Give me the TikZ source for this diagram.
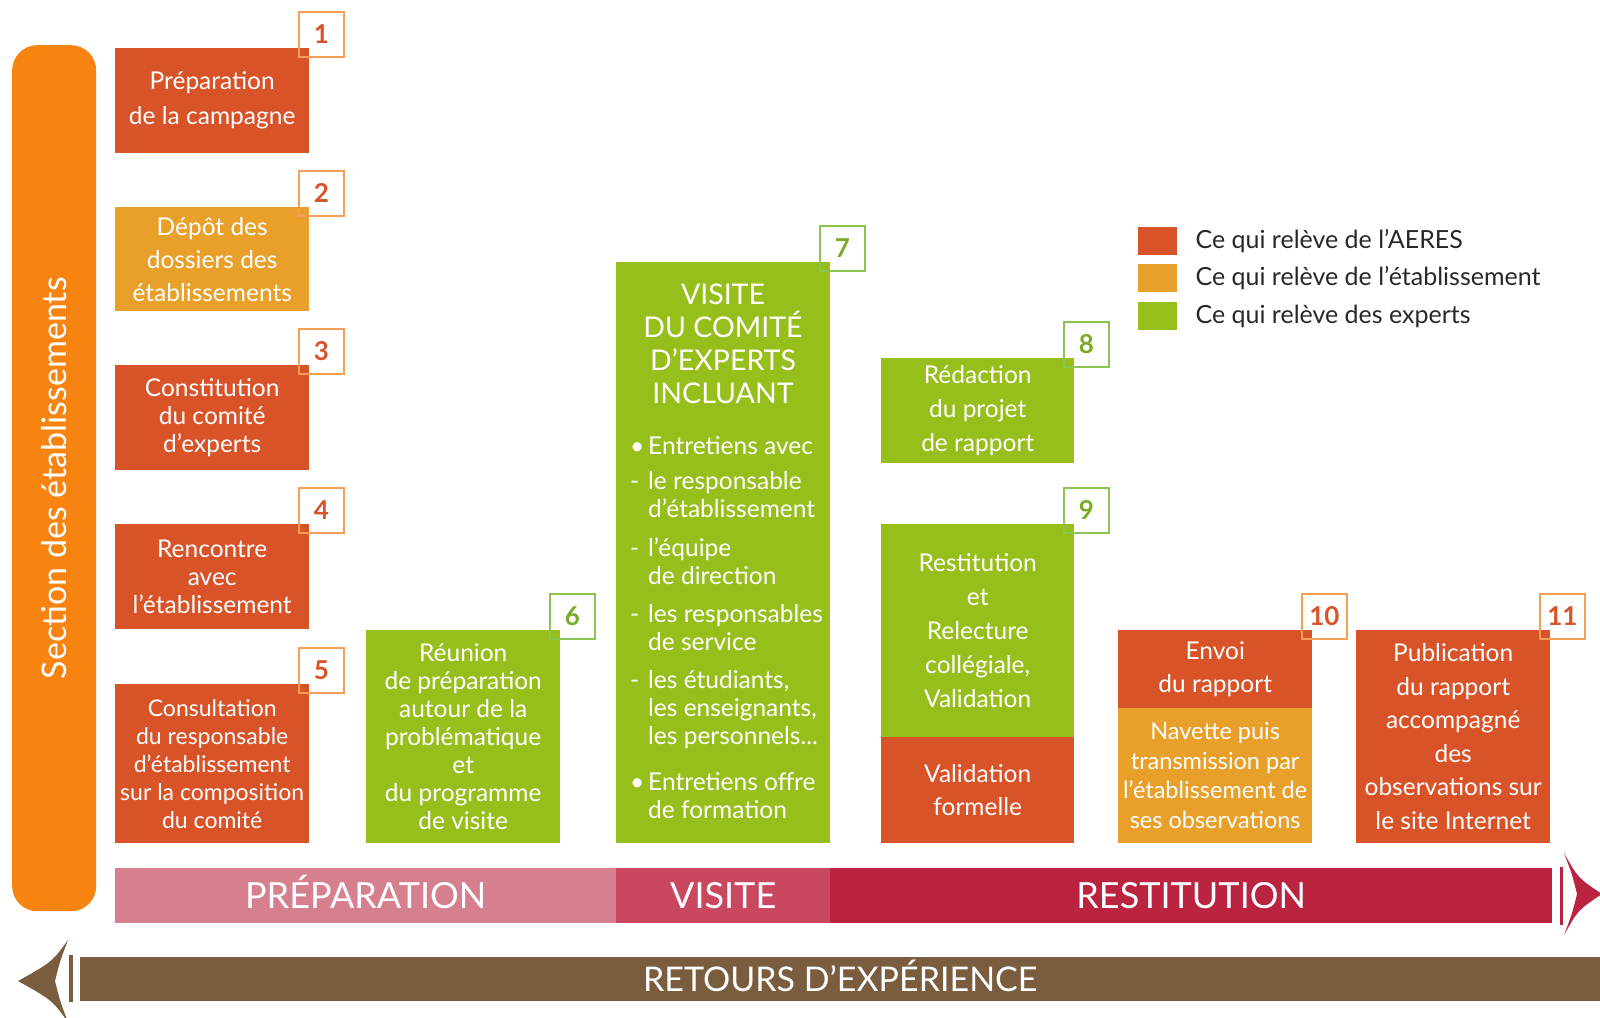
\documentclass[tikz,border=0pt]{standalone}
\usepackage{fontspec}
\setmainfont{Lato}
\definecolor{aeres}{RGB}{217,83,41}
\definecolor{etab}{RGB}{232,160,42}
\definecolor{expert}{RGB}{151,191,27}
\definecolor{sectionorange}{RGB}{247,132,17}
\definecolor{numorange}{RGB}{244,158,88}
\definecolor{numgreen}{RGB}{140,196,80}
\definecolor{numgreentext}{RGB}{120,172,40}
\definecolor{prepcol}{RGB}{214,128,143}
\definecolor{visitecol}{RGB}{201,72,96}
\definecolor{restitcol}{RGB}{186,36,64}
\definecolor{retourcol}{RGB}{122,92,62}
\definecolor{legendgray}{RGB}{40,40,40}

\begin{document}
\begin{tikzpicture}[
    x=1pt, y=-1pt,
    stepbox/.style={rectangle, inner sep=0pt, anchor=north west, minimum width=194pt,
        text=white, align=center, font=\fontsize{24.5}{#1}\selectfont},
    stepbox/.default=28,
    numbox/.style={draw=numorange, line width=2pt, minimum size=45pt, inner sep=0pt,
        text=aeres, font=\fontsize{26}{26}\selectfont\bfseries},
    greennum/.style={numbox, draw=numgreen, text=numgreentext},
    phasebar/.style={rectangle, inner sep=0pt, anchor=north west, minimum height=55pt,
        text=white, text height=26pt, text depth=0pt, font=\fontsize{36}{36}\selectfont},
    legendbox/.style={rectangle, inner sep=0pt, minimum width=39pt, minimum height=28pt, anchor=north west},
    legendlabel/.style={anchor=west, text=legendgray, font=\fontsize{25}{25}\selectfont}
]
    \useasboundingbox (0,0) rectangle (1600,1017);

    % Section des etablissements
    \node[fill=sectionorange, rounded corners=25pt, minimum width=84pt, minimum height=866pt,
        anchor=north west, inner sep=0pt] (section) at (12,45) {};
    \node[rotate=90, text=white, font=\fontsize{34}{34}\selectfont] (sectionlabel) at (section.center)
        {Section des établissements};

    % Preparation steps
    \node[stepbox=35, fill=aeres, minimum height=105pt] (prep) at (115,48) {Préparation\\de la campagne};
    \node[stepbox=33, fill=etab, minimum height=104pt] (depot) at (115,207) {Dépôt des\\dossiers des\\établissements};
    \node[stepbox, fill=aeres, minimum height=105pt] (comite) at (115,365) {Constitution\\du comité\\d’experts};
    \node[stepbox, fill=aeres, minimum height=105pt] (rencontre) at (115,524) {Rencontre\\avec\\l’établissement};
    \node[stepbox, fill=aeres, minimum height=159pt, font=\fontsize{23}{28}\selectfont] (consult) at (115,684)
        {Consultation\\du responsable\\d’établissement\\sur la composition\\du comité};
    \node[stepbox, fill=expert, minimum height=213pt] (reunion) at (366,630)
        {Réunion\\de préparation\\autour de la\\problématique\\et\\du programme\\de visite};

    % Visite
    \node[stepbox, fill=expert, minimum width=214pt, minimum height=581pt] (visite) at (616,262) {};
    \node[text=white, align=center, font=\fontsize{28.5}{33}\selectfont] (visitetitre) at (723,344)
        {VISITE\\DU COMITÉ\\D’EXPERTS\\INCLUANT};
    \node[text=white, inner sep=0pt, anchor=base west, font=\fontsize{24.5}{28}\selectfont] (visiteliste) at (630,454) {%
        \renewcommand\arraystretch{1}%
        \begin{tabular}[t]{@{}p{18pt}@{}l@{}}
            \textbullet & Entretiens avec\\[7pt]
            - & le responsable\\
              & d’établissement\\[11pt]
            - & l’équipe\\
              & de direction\\[10pt]
            - & les responsables\\
              & de service\\[10pt]
            - & les étudiants,\\
              & les enseignants,\\
              & les personnels...\\[18pt]
            \textbullet & Entretiens offre\\
              & de formation
        \end{tabular}};

    % Restitution steps
    \node[stepbox=34, fill=expert, minimum width=193pt, minimum height=105pt] (redaction) at (881,358)
        {Rédaction\\du projet\\de rapport};
    \node[stepbox=34, fill=expert, minimum width=193pt, minimum height=213pt] (relecture) at (881,524)
        {Restitution\\et\\Relecture\\collégiale,\\Validation};
    \node[stepbox=33, fill=aeres, minimum width=193pt, minimum height=106pt] (validation) at (881,737)
        {Validation\\formelle};
    \node[stepbox=33, fill=aeres, minimum height=78pt] (envoi) at (1118,630) {Envoi\\du rapport};
    \node[stepbox, fill=etab, minimum height=135pt, font=\fontsize{23.5}{29.5}\selectfont] (navette) at (1118,708)
        {Navette puis\\transmission par\\l’établissement de\\ses observations};
    \node[stepbox=33.5, fill=aeres, minimum height=213pt] (publication) at (1356,630)
        {Publication\\du rapport\\accompagné\\des\\observations sur\\le site Internet};

    % Step numbers
    \node[numbox] (n1) at ([shift={(12pt,14pt)}]prep.north east) {1};
    \node[numbox] (n2) at ([shift={(12pt,14pt)}]depot.north east) {2};
    \node[numbox] (n3) at ([shift={(12pt,14pt)}]comite.north east) {3};
    \node[numbox] (n4) at ([shift={(12pt,14pt)}]rencontre.north east) {4};
    \node[numbox] (n5) at ([shift={(12pt,14pt)}]consult.north east) {5};
    \node[greennum] (n6) at ([shift={(12pt,14pt)}]reunion.north east) {6};
    \node[greennum] (n7) at ([shift={(12pt,14pt)}]visite.north east) {7};
    \node[greennum] (n8) at ([shift={(12pt,14pt)}]redaction.north east) {8};
    \node[greennum] (n9) at ([shift={(12pt,14pt)}]relecture.north east) {9};
    \node[numbox] (n10) at ([shift={(12pt,14pt)}]envoi.north east) {10};
    \node[numbox] (n11) at ([shift={(12pt,14pt)}]publication.north east) {11};

    % Legend
    \node[legendbox, fill=aeres] (legaeres) at (1138,227) {};
    \node[legendbox, fill=etab] (legetab) at (1138,264) {};
    \node[legendbox, fill=expert] (legexpert) at (1138,302) {};
    \node[legendlabel] (labaeres) at (1192,241) {Ce qui relève de l’AERES};
    \node[legendlabel] (labetab) at (1192,278) {Ce qui relève de l’établissement};
    \node[legendlabel] (labexpert) at (1192,316) {Ce qui relève des experts};

    % Phases
    \node[phasebar, fill=prepcol, minimum width=501pt] (phaseprep) at (115,868) {PRÉPARATION};
    \node[phasebar, fill=visitecol, minimum width=214pt] (phasevisite) at (616,868) {VISITE};
    \node[phasebar, fill=restitcol, minimum width=722pt] (phaserestit) at (830,868) {RESTITUTION};
    \fill[restitcol] (1560,867) rectangle (1563,925);
    \fill[restitcol] (1564,853) .. controls (1578,878) .. (1602,894)
        .. controls (1578,910) .. (1564,935) .. controls (1572,914) .. (1577,894)
        .. controls (1572,874) .. (1564,853) -- cycle;

    % Retours d'experience
    \node[phasebar, fill=retourcol, minimum width=1520pt, minimum height=44pt,
        text height=24.5pt, font=\fontsize{34}{34}\selectfont] (retours) at (80,957) {RETOURS D’EXPÉRIENCE};
    \fill[retourcol] (69,955) rectangle (73,1002);
    \fill[retourcol] (68,940) .. controls (52,962) .. (18,981)
        .. controls (52,1000) .. (68,1022) .. controls (60,1001) .. (55,981)
        .. controls (60,961) .. (68,940) -- cycle;
\end{tikzpicture}
\end{document}
